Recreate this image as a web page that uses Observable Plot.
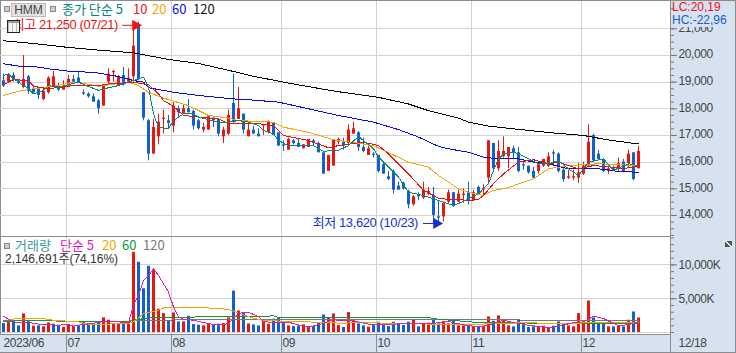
<!DOCTYPE html>
<html><head><meta charset="utf-8">
<script src="https://cdn.jsdelivr.net/npm/d3@7"></script>
<script src="https://cdn.jsdelivr.net/npm/@observablehq/plot@0.6"></script>
<style>
html,body{margin:0;padding:0;background:#fff}
#c{position:relative;width:736px;height:353px;background:#d6e2f0;overflow:hidden;font-family:'Liberation Sans','Noto Sans CJK KR',sans-serif}
#c svg{position:absolute;left:0;background:transparent;max-width:none;overflow:visible}
.t{position:absolute;white-space:nowrap;line-height:14px;font-size:12px;font-family:'Liberation Sans','Noto Sans CJK KR',sans-serif}
.k{font-family:'Noto Sans CJK KR',sans-serif;font-size:13px}
.sq{position:absolute;width:4px;height:4px;background:#ccc;border:1px solid #8a8a8a}
#border{position:absolute;inset:0;border:1px solid #8c8c8c;border-width:1px 1px 1px 0;box-sizing:border-box;pointer-events:none}
.ax text{letter-spacing:-.4px}
</style></head><body><div id="c"></div>
<script>
const opens=[19050,19000,19250,19050,18800,19200,18750,18800,18350,18600,18800,18850,18700,18850,19100,19150,18600,18550,18450,18300,18100,19000,19350,18850,19250,19000,19200,21100,18600,17550,16300,16950,17600,17550,17350,18000,17800,18000,17900,17550,17200,17200,17650,17600,16950,17050,18200,17600,17800,16950,17200,17050,17350,17100,17450,17100,16650,16450,16800,16700,16500,16550,16800,16700,16350,15650,15850,16750,16750,16700,17050,17100,16550,16250,16300,16250,15900,15450,15650,15100,15200,14900,14400,14750,14650,14800,14750,13950,13950,14500,14850,14500,14750,14850,14550,15050,14950,15400,16700,15750,16200,16200,16500,16350,15900,15850,15650,15650,15850,15850,16350,16300,15700,15400,15400,15400,15550,15850,17000,16300,16100,15650,15750,15750,16000,15950,16350,15750];
const highs=[19300,19300,19350,19100,20000,19250,18800,18800,18800,19200,19400,18950,19050,19250,19250,19400,18700,18600,18550,18350,18900,19500,19450,19250,19550,19500,21100,21250,18600,17600,17600,17800,17950,17750,18250,18100,18150,18350,17950,17600,17450,17700,17700,17600,17300,17950,19300,18800,17800,17500,17350,17250,17400,17550,17450,17100,16800,16900,16850,16850,16650,16850,16850,16750,16350,16250,16850,16900,16900,17400,17500,17150,16900,16600,16350,16250,15950,15650,15700,15250,15250,14950,14750,14850,15250,15050,15050,14550,14500,14950,14850,14950,15000,15250,14950,15100,15150,16800,16700,16800,16950,16550,16600,16550,16050,15850,15800,15950,16100,16350,16450,16350,15850,15700,15700,15950,16000,17400,17050,16450,16100,15850,15850,16150,16100,16450,16350,16600];
const lows=[18800,18950,19000,18900,18750,18550,18550,18350,18300,18550,18800,18650,18700,18800,18950,18950,18500,18400,18250,17800,18100,18950,19000,18850,18850,18950,19000,19050,17550,16050,16300,16650,17050,17250,17100,17650,17800,17850,17200,17200,17100,17200,17300,16950,16700,17000,17450,17600,17050,16950,17050,16950,17000,17050,17000,16600,16400,16450,16650,16550,16500,16550,16600,16350,15550,15650,15850,16650,16450,16650,17050,16400,16350,16250,16150,15600,15550,15300,14800,14950,14950,14250,14350,14550,14600,14750,13700,13620,13750,14450,14300,14500,14450,14400,14550,14750,14750,15150,15700,15650,16150,15750,16100,15600,15700,15550,15350,15550,15800,15800,15900,15600,15250,15350,15300,15200,15500,15850,16000,16050,15600,15550,15650,15650,15600,15750,15300,15750];
const closes=[18850,19250,19100,18950,19100,18650,18600,18500,18650,19150,19200,18700,18850,19100,19000,18950,18550,18450,18250,18000,18900,19300,19400,19200,18900,19150,20350,19100,17650,16300,17300,17500,17650,17450,18100,17850,18000,17850,17350,17250,17300,17700,17550,17050,17200,17750,17500,18000,17200,17200,17050,16950,17400,17500,17000,16600,16600,16850,16700,16550,16650,16850,16700,16350,15550,16250,16850,16850,16600,17200,17250,16550,16400,16500,16250,15650,15550,15350,14950,14950,15000,14400,14700,14700,14950,14900,14000,13900,14450,14850,14350,14800,14800,14550,14850,14800,15000,16800,15750,16400,16400,16550,16350,15650,15850,15600,15400,15900,16100,16200,16300,15650,15350,15450,15450,15600,15850,16750,16050,16100,15650,15750,15650,15950,15650,16300,15350,16400];

const ma5Days=[0,1,2,3,5,6,8,9,11,15,17,19,21,23,25,28,29,30,31,33,34,36,38,39,43,45,47,49,51,52,54,55,57,60,62,64,67,69,71,72,74,75,77,79,81,84,87,90,91,93,95,96,97,98,99,100,102,103,105,107,109,111,113,115,117,120,122,125,127];
const ma5Values=[19250,19310,19120,19000,18750,18560,18690,18870,18810,19000,18840,18690,18790,18870,19000,19190,18810,17810,17310,17250,17560,17810,17810,17690,17500,17500,17560,17500,17370,17190,17060,16810,16620,16620,16620,16410,16440,16620,16960,16810,16500,16190,15810,15440,14870,14750,14560,14370,14450,14620,14810,15000,15190,15690,16120,16310,16370,16310,16120,15940,15940,16060,15750,15500,16000,16120,15690,15940,15870];
const ma10Days=[0,2,5,6,9,11,14,19,21,26,29,31,32,34,36,39,43,45,49,51,54,56,61,65,67,72,75,77,81,84,87,89,91,93,95,96,98,100,103,106,109,111,115,118,122,124,127];
const ma10Values=[18900,19100,19050,18850,18750,18800,18870,18870,18930,19000,18900,18560,18310,18090,17750,17690,17620,17440,17450,17440,17370,17000,16810,16540,16620,16750,16620,16310,15560,14940,14650,14600,14600,14550,14600,14750,15190,15560,16000,16090,15940,16000,15750,15870,15810,15750,15870];
const ma20Days=[0,3,6,10,14,16,19,25,27,29,32,37,41,45,47,51,54,56,61,66,74,81,85,87,91,93,96,98,101,103,106,109,113,116,119,123,127];
const ma20Values=[18500,18660,18750,18840,19000,18960,18840,19000,18870,18620,18400,18120,17750,17650,17560,17520,17500,17310,17120,16840,16620,16000,15810,15500,15000,14870,14750,14940,15040,15190,15370,15750,15870,15900,15940,15900,15870];
const ma60Days=[0,3,6,9,13,15,19,23,26,28,29,34,39,46,49,55,61,67,74,79,83,87,89,93,96,99,103,106,109,113,116,119,123,127];
const ma60Values=[19690,19600,19590,19500,19410,19400,19340,19210,19060,19000,18790,18620,18500,18370,18340,18250,18000,17750,17500,17220,16940,16590,16500,16370,16190,16120,16120,16000,15940,15750,15750,15750,15650,15620];
const ma120Days=[0,6,13,19,26,33,39,46,50,56,61,67,75,81,85,91,93,97,103,109,116,121,127];
const ma120Values=[20550,20450,20300,20200,20100,19850,19700,19400,19220,19000,18830,18640,18430,18180,17930,17650,17500,17350,17230,17110,17000,16830,16680];

const volumes=[1323,1470,1666,980,2744,1568,931,980,833,1421,1225,1078,735,1078,931,1078,1568,1078,1078,1421,2156,1813,1176,1176,1568,1470,11858,10388,6468,9800,9163,3430,2793,1715,2891,1568,1568,2401,1176,1078,980,1176,1078,1225,1323,2156,6125,3185,2842,1274,1127,980,1617,1225,1960,2205,1372,980,882,980,1127,882,882,1470,2597,2205,2744,1029,735,2940,1764,1274,980,784,1029,1519,1029,882,1519,1225,1029,1519,1862,833,1225,1372,1960,1274,1617,1274,1862,980,980,1225,784,882,931,2303,1666,2450,1813,980,833,1813,1323,735,833,833,931,735,931,1568,1176,980,833,2793,1568,4655,2156,1323,1323,833,833,980,833,1813,3038,2147];
const volumeSigns="brbbrbrbrrbbrrrbbbbbrrrrbrrbbbrrrbrbrbbbrrbbrrbrbrbbrrbbbrbbrrbbbrrrbrrbbrbbbbbbbbrbrrbbrrbrrbrbrrbrrrbbbbbrrrbbbrrrrrbbbrbrbrbr".split("");
const vma5Days=[0,1,2,3,5,6,8,11,13,14,15,19,20,23,25,26,27,28,29,30,31,33,34,35,36,38,41,43,45,47,49,51,52,54,57,59,61,64,66,70,72,74,79,85,89,92,95,97,100,102,105,109,111,114,116,118,120,123,125,127];
const vma5Values=[2400,1960,1570,1470,1570,1320,1180,1080,1180,930,1080,1470,1670,1570,1470,4020,5490,7690,8430,9410,8430,5980,3770,2300,1960,1810,1320,1080,1320,2840,2990,2350,1620,1470,1520,1130,780,1370,1860,1760,1370,1130,1270,1270,1620,1130,830,1080,1810,1470,1080,730,930,1470,1570,2400,2060,980,1180,1570];
const vma20Days=[1,3,8,10,15,17,25,26,28,31,32,35,41,45,48,50,52,59,68,72,79,95,105,109,117,127];
const vma20Values=[1910,2060,2060,1810,1570,1180,1320,1570,2790,3280,3630,3720,3630,3430,2600,2110,1760,1620,1370,1520,1270,1230,1470,1320,1420,1470];
const vma60Days=[0,6,25,26,29,39,45,54,55,85,87,95,117,127];
const vma60Values=[1670,1760,1570,1810,2160,2300,2300,2450,2200,2200,1960,1470,1320,1320];
const vma120Days=[0,6,25,26,45,95,106,127];
const vma120Values=[1710,1710,1670,1810,1900,1960,1810,1810];

const priceTicks=[14000,15000,16000,17000,18000,19000,20000,21000];
const priceMinor=d3.range(13250,22000,250);
const volumeTicks=[5000,10000];
const volumeMinor=d3.range(0,14001,1000);
const monthDays=[13,34,56,75,94,116];
const monthLabels=["07","08","09","10","11","12"];

const RED="#e9160f",BLUE="#145fce",GRID="#d3d3d3",FONT="'Liberation Sans','Noto Sans CJK KR',sans-serif",BORDER="#8c8c8c",LOWBLUE="#1530d8";
const candles=opens.map((o,i)=>({i,o,h:highs[i],l:lows[i],c:closes[i],up:closes[i]>=o}));
const vols=volumes.map((v,i)=>({i,v,up:volumeSigns[i]==="r"}));
const xScale={type:"linear",domain:[-0.6,133.4],range:[0,670],axis:null};
const maLine=(days,values,stroke)=>Plot.line(values,{x:(d,i)=>days[i],y:d=>d,stroke,strokeWidth:1,shapeRendering:"crispEdges"});
const monthGrid=Plot.ruleX(monthDays,{x:d=>d-0.4,stroke:GRID,strokeWidth:1});
const frame=Plot.frame({fill:"#fff",stroke:BORDER,strokeWidth:1});
const frameLine=Plot.frame({stroke:BORDER,strokeWidth:1});

const price=Plot.plot({
  width:736,height:237,marginLeft:0,marginRight:66,marginTop:0,marginBottom:1,
  className:"ax",
  style:{background:"transparent",fontFamily:FONT},
  x:xScale,
  y:{domain:[13211,22061],range:[236,0],label:null,axis:null},
  marks:[
    frame,
    Plot.ruleY(priceTicks,{stroke:GRID,strokeWidth:1,shapeRendering:"crispEdges"}),
    monthGrid,
    Plot.axisY(priceMinor,{anchor:"right",tickSize:3,text:null,label:null,stroke:"#777"}),
    Plot.axisY(priceTicks,{anchor:"right",tickSize:6,tickPadding:2,label:null,fontSize:12,fill:"#444",stroke:"#777",tickFormat:d3.format(",")}),
    Plot.ruleX(candles,{x:"i",y1:"l",y2:"h",stroke:d=>d.up?RED:BLUE,strokeWidth:1}),
    Plot.ruleX(candles,{x:"i",y1:"o",y2:"c",stroke:d=>d.up?RED:BLUE,strokeWidth:3}),
    maLine(ma120Days,ma120Values,"#000"),
    maLine(ma60Days,ma60Values,"#0a0ae6"),
    maLine(ma20Days,ma20Values,"#f0a800"),
    maLine(ma10Days,ma10Values,"#f01010"),
    maLine(ma5Days,ma5Values,"#008a7a"),
    Plot.text(["최고 21,250 (07/21)"],{x:22.9,y:21150,text:d=>d,textAnchor:"end",fill:RED,fontSize:13,fontFamily:FONT}),
    Plot.ruleY([21130],{x1:23.8,x2:26.4,stroke:RED,strokeWidth:1}),
    Plot.dot([21130],{x:26.4,y:d=>d,symbol:"triangle",rotate:90,r:4.2,fill:RED,stroke:"none"}),
    Plot.text(["최저 13,620 (10/23)"],{x:82.9,y:13720,text:d=>d,textAnchor:"end",fill:LOWBLUE,fontSize:13,fontFamily:FONT}),
    Plot.ruleY([13700],{x1:84,x2:86.6,stroke:LOWBLUE,strokeWidth:1}),
    Plot.dot([13700],{x:86.6,y:d=>d,symbol:"triangle",rotate:90,r:4.2,fill:LOWBLUE,stroke:"none"})
  ]
});
price.style.top="0px";

const volume=Plot.plot({
  width:736,height:99,marginLeft:0,marginRight:66,marginTop:0,marginBottom:1,
  className:"ax",
  style:{background:"transparent",fontFamily:FONT},
  x:xScale,
  y:{domain:[-296,14201],range:[98,0],label:null,axis:null},
  marks:[
    frame,
    Plot.ruleY([0,...volumeTicks],{stroke:GRID,strokeWidth:1,shapeRendering:"crispEdges"}),
    monthGrid,
    Plot.axisY(volumeMinor,{anchor:"right",tickSize:3,text:null,label:null,stroke:"#777"}),
    Plot.axisY(volumeTicks,{anchor:"right",tickSize:6,tickPadding:2,label:null,fontSize:12,fill:"#444",stroke:"#777",tickFormat:d=>d3.format(",")(d)+"K"}),
    Plot.ruleX(vols,{x:"i",y1:0,y2:"v",stroke:d=>d.up?RED:BLUE,strokeWidth:3}),
    maLine(vma120Days,vma120Values,"#777"),
    maLine(vma60Days,vma60Values,"#0a9a3c"),
    maLine(vma20Days,vma20Values,"#f0a800"),
    maLine(vma5Days,vma5Values,"#e020b0"),
    frameLine
  ]
});
volume.style.top="236px";

const strip=Plot.plot({
  width:736,height:19,marginLeft:0,marginRight:66,marginTop:0,marginBottom:0,
  className:"ax",
  style:{background:"transparent",fontFamily:FONT},
  x:xScale,
  y:{domain:[0,1],range:[18,0],axis:null},
  marks:[
    Plot.ruleX(monthDays,{x:d=>d-0.4,stroke:BORDER,strokeWidth:1}),
    Plot.ruleX([133.4],{stroke:BORDER,strokeWidth:1}),
    Plot.text(monthLabels,{x:(d,i)=>monthDays[i],y:0.5,text:d=>d,textAnchor:"start",dx:-1,fill:"#444",fontSize:12}),
    Plot.text(["2023/06"],{x:0,y:0.5,text:d=>d,textAnchor:"start",dx:0,fill:"#444",fontSize:12}),
    Plot.text(["12/18"],{x:135,y:0.5,text:d=>d,textAnchor:"start",dx:0,fill:"#444",fontSize:12})
  ]
});
strip.style.top="334px";

const c=document.getElementById("c");
c.append(price,volume,strip);

// axis labels sit one pixel above their ticks in the reference
for(const svg of [price])
  for(const g of svg.querySelectorAll('g[aria-label="y-axis tick label"]')){
    const tr=g.getAttribute("transform")||"";
    g.setAttribute("transform","translate(0,-1) "+tr);
  }

function label(x,y,text,color,cls,extra){
  const d=document.createElement("div");
  d.className="t "+(cls||"");d.textContent=text;
  d.style.left=x+"px";d.style.top=y+"px";d.style.color=color;
  if(extra)Object.assign(d.style,extra);
  c.append(d);return d;
}
function sq(x,y){const d=document.createElement("div");d.className="sq";d.style.left=x+"px";d.style.top=y+"px";c.append(d);}
sq(4,6);sq(50,6);
label(11,3,"HMM","#444","",{width:"35px",height:"14px",lineHeight:"12px",background:"#e2e2e2",border:"1px solid #bdbdbd",textAlign:"center",boxSizing:"border-box"});
label(62,2,"종가 단순 5","#00857a","k");
label(133,2,"10",RED,"k");label(152,2,"20","#f0a800","k");label(172,2,"60","#0a0ae6","k");label(193,2,"120","#111","k");
const ic=document.createElement("div");
Object.assign(ic.style,{position:"absolute",left:"7px",top:"20px",width:"11px",height:"11px",border:"1px solid #222",background:"repeating-linear-gradient(90deg,#bbb 0 1px,#f4f4f4 1px 4px),#eee",boxShadow:"inset 0 2px 0 #999"});
c.append(ic);
label(672,0,"LC:20,19","#f01010");
label(671,13,"HC:-22,96",BLUE,"",{background:"#d6e2f0",width:"64px",height:"14px",paddingLeft:"1px",boxSizing:"border-box"});
sq(4,243);
label(15,238,"거래량","#3a9a9a","k");
label(60,238,"단순 5","#e020b0","k");
label(102,238,"20","#f0a800","k");label(122,238,"60","#0a9a3c","k");label(143,238,"120","#777","k");
label(5,252,"2,146,691주(74,16%)","#333");
const rs=document.createElement("div");
Object.assign(rs.style,{position:"absolute",left:"725px",top:"241px",width:"7px",height:"6px",background:"linear-gradient(45deg,#555 42%,#eee 42% 58%,#555 58%),#555"});
c.append(rs);
const b=document.createElement("div");b.id="border";c.append(b);
</script></body></html>
